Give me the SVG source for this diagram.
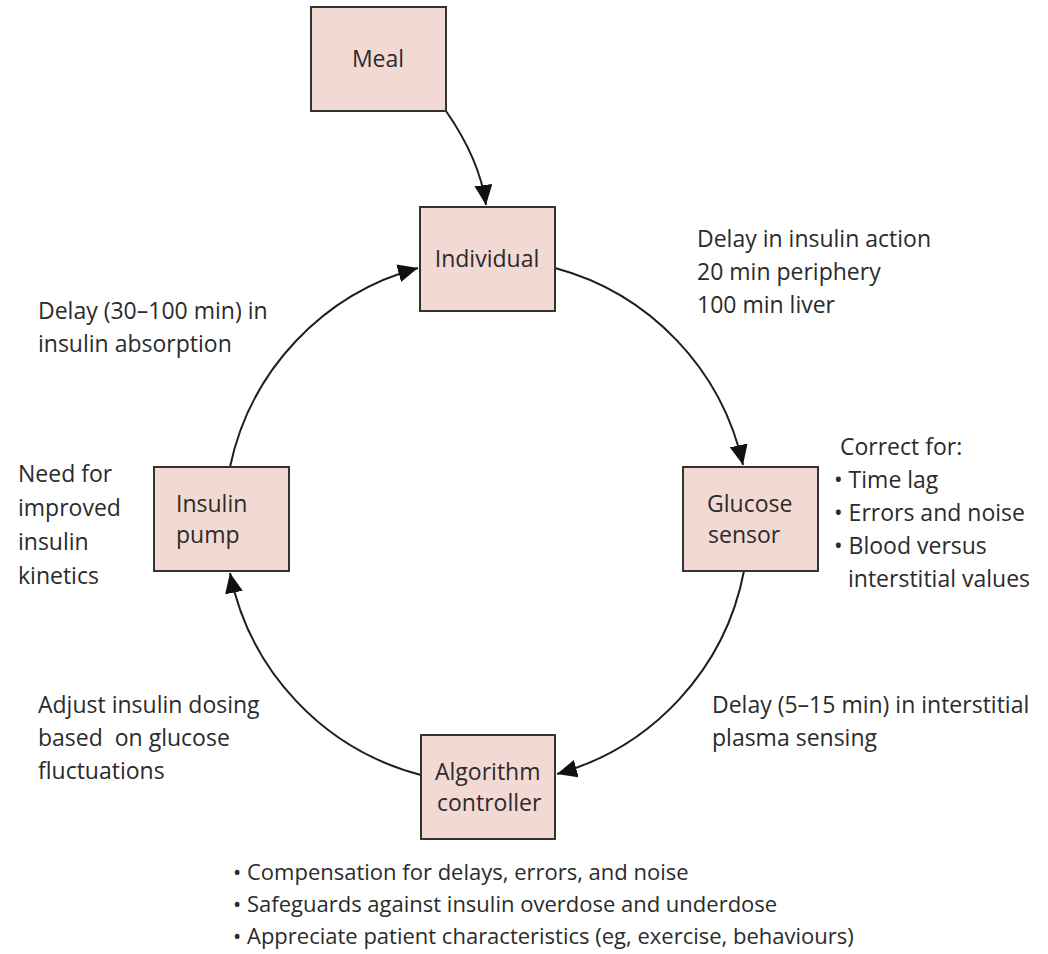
<svg xmlns="http://www.w3.org/2000/svg" width="1048" height="954" viewBox="0 0 1048 954">
<style>
text{font-family:"Open Sans","Noto Sans","Liberation Sans",sans-serif;font-size:23px;fill:#2b2b2b}
.box{fill:#f3d9d3;stroke:#333;stroke-width:2}
.c{text-anchor:middle}
.sm{font-size:22px}
.pre{white-space:pre}
.arc{fill:none;stroke:#1e1e1e;stroke-width:2}
</style>
<defs>
<marker id="ah" markerUnits="userSpaceOnUse" markerWidth="22" markerHeight="18" refX="20" refY="9" orient="auto">
<path d="M0,0 L20,9 L0,18 Z" fill="#111"/>
</marker>
</defs>
<rect width="1048" height="954" fill="#fff"/>
<g id="connectors">
<path class="arc" d="M446,111 Q480,160 486,205" marker-end="url(#ah)"/>
<path class="arc" d="M555,268 A262,262 0 0 1 743,465" marker-end="url(#ah)"/>
<path class="arc" d="M744,571 A262,262 0 0 1 557,774" marker-end="url(#ah)"/>
<path class="arc" d="M421,775 A262,262 0 0 1 230,573" marker-end="url(#ah)"/>
<path class="arc" d="M230,467 A262,262 0 0 1 418,268" marker-end="url(#ah)"/>
</g>
<g id="meal">
<rect class="box" x="311" y="7" width="135" height="104"/>
<text class="c" x="378" y="67">Meal</text>
</g>
<g id="individual">
<rect class="box" x="420" y="207" width="135" height="104"/>
<text class="c" x="487" y="267">Individual</text>
</g>
<g id="glucose-sensor">
<rect class="box" x="683" y="467" width="135" height="104"/>
<text x="707" y="512">Glucose</text>
<text x="708" y="543">sensor</text>
</g>
<g id="algorithm-controller">
<rect class="box" x="421" y="735" width="134" height="104"/>
<text x="435" y="780">Algorithm</text>
<text x="437" y="811">controller</text>
</g>
<g id="insulin-pump">
<rect class="box" x="154" y="467" width="135" height="104"/>
<text x="176" y="512">Insulin</text>
<text x="176" y="543">pump</text>
</g>
<g id="labels">
<text x="697" y="247">Delay in insulin action</text>
<text x="697" y="280">20 min periphery</text>
<text x="697" y="313">100 min liver</text>
<text x="38" y="319">Delay (30–100 min) in</text>
<text x="38" y="352">insulin absorption</text>
<text x="18" y="482">Need for</text>
<text x="18" y="516">improved</text>
<text x="18" y="550">insulin</text>
<text x="18" y="584">kinetics</text>
<text x="840" y="455">Correct for:</text>
<text x="834" y="488">• Time lag</text>
<text x="834" y="521">• Errors and noise</text>
<text x="834" y="554">• Blood versus</text>
<text x="848" y="587">interstitial values</text>
<text x="38" y="713">Adjust insulin dosing</text>
<text class="pre" x="38" y="746" xml:space="preserve">based  on glucose</text>
<text x="38" y="779">fluctuations</text>
<text x="712" y="713">Delay (5–15 min) in interstitial</text>
<text x="712" y="746">plasma sensing</text>
<text class="sm" x="233" y="880">• Compensation for delays, errors, and noise</text>
<text class="sm" x="233" y="912">• Safeguards against insulin overdose and underdose</text>
<text class="sm" x="233" y="944">• Appreciate patient characteristics (eg, exercise, behaviours)</text>
</g>
</svg>
